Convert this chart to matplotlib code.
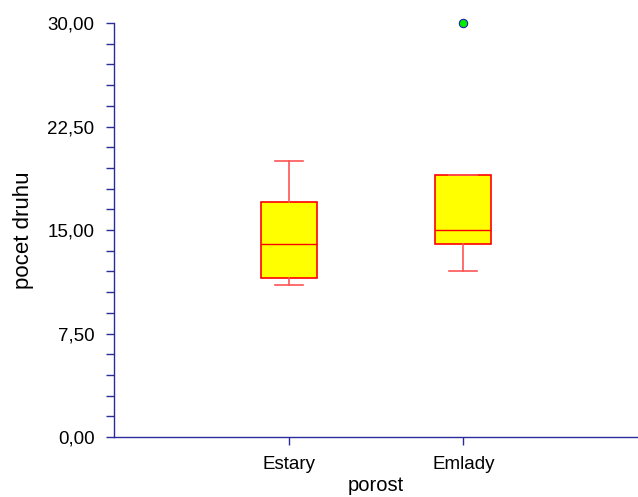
import matplotlib.pyplot as plt
from matplotlib.ticker import MultipleLocator, FuncFormatter

plt.rcParams['font.family'] = ['Liberation Sans', 'DejaVu Sans']

# box summary per group
groups = ["Estary", "Emlady"]
whislo = [11.0, 12.0]
q1 = [11.5, 14.0]
med = [14.0, 15.0]
q3 = [17.0, 19.0]
whishi = [20.0, 19.0]
fliers = [[], [30.0]]

stats = []
for i, g in enumerate(groups):
    stats.append({"label": g, "whislo": whislo[i], "q1": q1[i], "med": med[i],
                  "q3": q3[i], "whishi": whishi[i], "fliers": fliers[i]})

axis_col = "#2b2b9a"

fig = plt.figure(figsize=(6.38, 4.97), dpi=100)
ax = fig.add_axes([0.1787, 0.1207, 0.8213, 0.833])

bp = ax.bxp(stats, positions=[1, 2], widths=0.32, patch_artist=True,
            boxprops=dict(facecolor="#ffff00", edgecolor="#ff0000", linewidth=1.2),
            medianprops=dict(color="#ff0000", linewidth=1.0),
            whiskerprops=dict(color="#ff5555", linewidth=1.2),
            capprops=dict(color="#ff5555", linewidth=1.2),
            capwidths=0.16,
            flierprops=dict(marker="o", markerfacecolor="#00ee00",
                            markeredgecolor="#2222aa", markersize=6,
                            markeredgewidth=0.8))
for f in bp["fliers"]:
    f.set_clip_on(False)

ax.set_xlim(0, 3)
ax.set_ylim(0, 30)
ax.set_xticks([1, 2])
ax.set_xticklabels(groups)
ax.yaxis.set_major_locator(MultipleLocator(7.5))
ax.yaxis.set_minor_locator(MultipleLocator(1.5))
ax.yaxis.set_major_formatter(FuncFormatter(lambda v, p: ("%.2f" % v).replace(".", ",")))

for s in ["top", "right"]:
    ax.spines[s].set_visible(False)
for s in ["left", "bottom"]:
    ax.spines[s].set_color(axis_col)
    ax.spines[s].set_linewidth(1.0)

ax.tick_params(axis="both", which="both", direction="out", color=axis_col,
               labelsize=13.5, width=1.0, length=6)
ax.tick_params(axis="y", which="major", pad=8)
ax.tick_params(axis="x", which="major", pad=8)

ax.set_ylabel("pocet druhu", fontsize=16, labelpad=10)
ax.set_xlabel("porost", fontsize=14.5, labelpad=2)

fig.savefig("out.png", dpi=100)
